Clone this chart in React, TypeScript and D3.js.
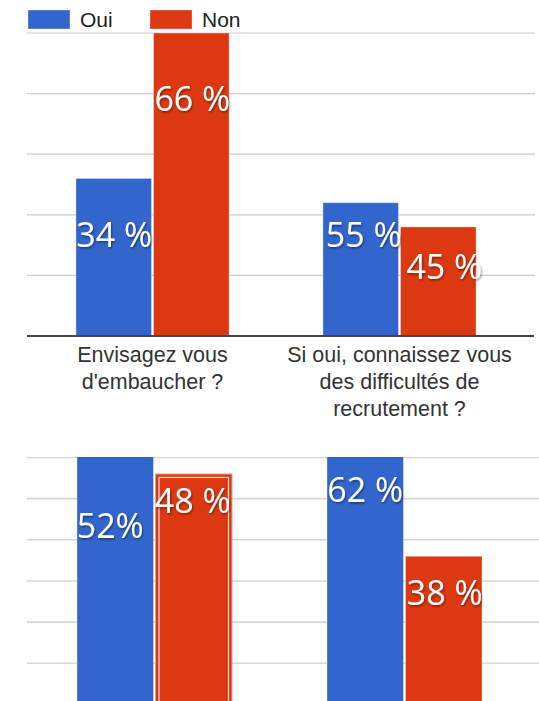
import React from "react";
import * as d3 from "d3";

// ---------- DATA ----------
const series = ["Oui", "Non"];
const seriesColors = ["#3366cc", "#dc3912"];

// Top chart (respondent counts)
const topCategories = [
  "Envisagez vous d'embaucher ?",
  "Si oui, connaissez vous des difficultés de recrutement ?",
];
const topCategoryLines = [
  ["Envisagez vous", "d'embaucher ?"],
  ["Si oui, connaissez vous", "des difficultés de", "recrutement ?"],
];
const topOui = [26, 22];
const topNon = [50, 18];
const topOuiLabels = ["34 %", "55 %"];
const topNonLabels = ["66 %", "45 %"];
const topTicks = [10, 20, 30, 40, 50];

// Bottom chart (percentages, cropped view)
const bottomCategories = ["Question 3", "Question 4"];
const bottomOui = [52, 62];
const bottomNon = [48, 38];
const bottomOuiLabels = ["52%", "62 %"];
const bottomNonLabels = ["48 %", "38 %"];
const bottomTicks = [0, 5, 10, 15, 20, 25, 30, 35, 40, 45, 50];

// ---------- LAYOUT ----------
const W = 539;
const H = 701;
// label offsets [category][series] = [dx from bar centre, dy below bar top]
const topLabelOffsets = [
  [[0.5, 68.6], [1, 78]],
  [[3, 44.3], [6, 52]],
];
const bottomLabelOffsets = [
  [[-5, 96.5], [-1, 39]],
  [[0, 143], [1, 48.7]],
];

const labelFont = "'Open Sans', 'Noto Sans', sans-serif";
const axisFont = "'Liberation Sans', Arial, sans-serif";

type ChartProps = {
  categories: string[];
  oui: number[];
  non: number[];
  ouiLabels: string[];
  nonLabels: string[];
  offsets: number[][][];
  x0: d3.ScaleBand<string>;
  y: d3.ScaleLinear<number, number>;
  selected?: [number, number];
};

function Bars({ categories, oui, non, ouiLabels, nonLabels, offsets, x0, y, selected }: ChartProps) {
  const x1 = d3
    .scaleBand<string>()
    .domain(series)
    .range([0, x0.bandwidth()])
    .paddingInner(0.026);
  const base = y(0);
  const rows = categories.map((c, ci) => ({
    c,
    ci,
    values: [oui[ci], non[ci]],
    labels: [ouiLabels[ci], nonLabels[ci]],
  }));
  return (
    <g>
      {rows.map((r) => (
        <g key={r.c} transform={`translate(${x0(r.c)},0)`}>
          {r.values.map((v, si) => {
            const bx = x1(series[si])!;
            const bw = x1.bandwidth();
            const top = y(v);
            const isSel = selected && selected[0] === r.ci && selected[1] === si;
            return (
              <g key={si}>
                <rect
                  x={bx}
                  y={top}
                  width={bw}
                  height={base - top}
                  fill={seriesColors[si]}
                  stroke={isSel ? "#f0a08a" : "#ffffff"}
                  strokeOpacity={isSel ? 1 : 0.35}
                  strokeWidth={1}
                />
                {isSel && (
                  <rect
                    x={bx + 3.5}
                    y={top + 3.5}
                    width={bw - 7}
                    height={base - top - 7}
                    fill="none"
                    stroke="#ffffff"
                    strokeOpacity={0.85}
                    strokeWidth={1.2}
                  />
                )}
              </g>
            );
          })}
        </g>
      ))}
      {rows.map((r) =>
        r.values.map((v, si) => {
          const cx = x0(r.c)! + x1(series[si])! + x1.bandwidth() / 2 + offsets[r.ci][si][0];
          const by = y(v) + offsets[r.ci][si][1];
          return (
            <text
              key={`${r.c}-${si}`}
              x={cx}
              y={by}
              textAnchor="middle"
              fontFamily={labelFont}
              fontSize={34}
              fill="#ffffff"
              filter="url(#shadow)"
            >
              {r.labels[si]}
            </text>
          );
        })
      )}
    </g>
  );
}

export default function App() {
  // top chart scales
  const xTop = d3.scaleBand<string>().domain(topCategories).range([29, 523]).paddingInner(0.38).paddingOuter(0.19);
  const yTop = d3.scaleLinear().domain([0, 50]).range([336, 33]);

  // bottom chart scales
  const xBottom = d3
    .scaleBand<string>()
    .domain(bottomCategories)
    .range([29.5, 529.5])
    .paddingInner(0.38)
    .paddingOuter(0.19);
  const yBottom = d3.scaleLinear().domain([0, 50]).range([869, 457.5]);

  return (
    <svg
      width={W}
      height={H}
      style={{ position: "absolute", left: 0, top: 0, background: "#ffffff" }}
    >
      <defs>
        <filter id="shadow" x="-20%" y="-20%" width="140%" height="140%">
          <feDropShadow dx="1" dy="1.5" stdDeviation="1.2" floodColor="#000" floodOpacity="0.45" />
        </filter>
        <clipPath id="bottomClip">
          <rect x={0} y={457} width={W} height={H - 457} />
        </clipPath>
      </defs>
      <rect x={0} y={0} width={W} height={H} fill="#ffffff" />

      {/* Legend */}
      {series.map((s, i) => (
        <g key={s} transform={`translate(${28 + i * 122},0)`}>
          <rect x={0} y={10} width={42} height={19} fill={seriesColors[i]} stroke="#ffffff" strokeOpacity={0.35} />
          <text x={52} y={27} fontFamily={axisFont} fontSize={21} fill="#222">
            {s}
          </text>
        </g>
      ))}

      {/* Top chart gridlines */}
      {topTicks.map((t) => (
        <line key={t} x1={27} x2={535} y1={yTop(t)} y2={yTop(t)} stroke="#cccccc" strokeWidth={1.2} />
      ))}

      <Bars
        categories={topCategories}
        oui={topOui}
        non={topNon}
        ouiLabels={topOuiLabels}
        nonLabels={topNonLabels}
        offsets={topLabelOffsets}
        x0={xTop}
        y={yTop}
      />

      {/* Top baseline */}
      <line x1={27} x2={534} y1={yTop(0)} y2={yTop(0)} stroke="#444" strokeWidth={2} />

      {/* Category labels */}
      {topCategories.map((c, ci) => (
        <text
          key={c}
          x={xTop(c)! + xTop.bandwidth() / 2}
          y={362}
          textAnchor="middle"
          fontFamily={axisFont}
          fontSize={21.5}
          fill="#333"
        >
          {topCategoryLines[ci].map((line, li) => (
            <tspan key={li} x={xTop(c)! + xTop.bandwidth() / 2} dy={li === 0 ? 0 : 27}>
              {line}
            </tspan>
          ))}
        </text>
      ))}

      {/* Bottom chart (cropped) */}
      <g clipPath="url(#bottomClip)">
        {bottomTicks.map((t) => (
          <line key={t} x1={27} x2={539} y1={yBottom(t)} y2={yBottom(t)} stroke="#d6d6d6" strokeWidth={1.6} />
        ))}
        <Bars
          categories={bottomCategories}
          oui={bottomOui}
          non={bottomNon}
          ouiLabels={bottomOuiLabels}
          nonLabels={bottomNonLabels}
          offsets={bottomLabelOffsets}
          x0={xBottom}
          y={yBottom}
          selected={[0, 1]}
        />
      </g>
    </svg>
  );
}
